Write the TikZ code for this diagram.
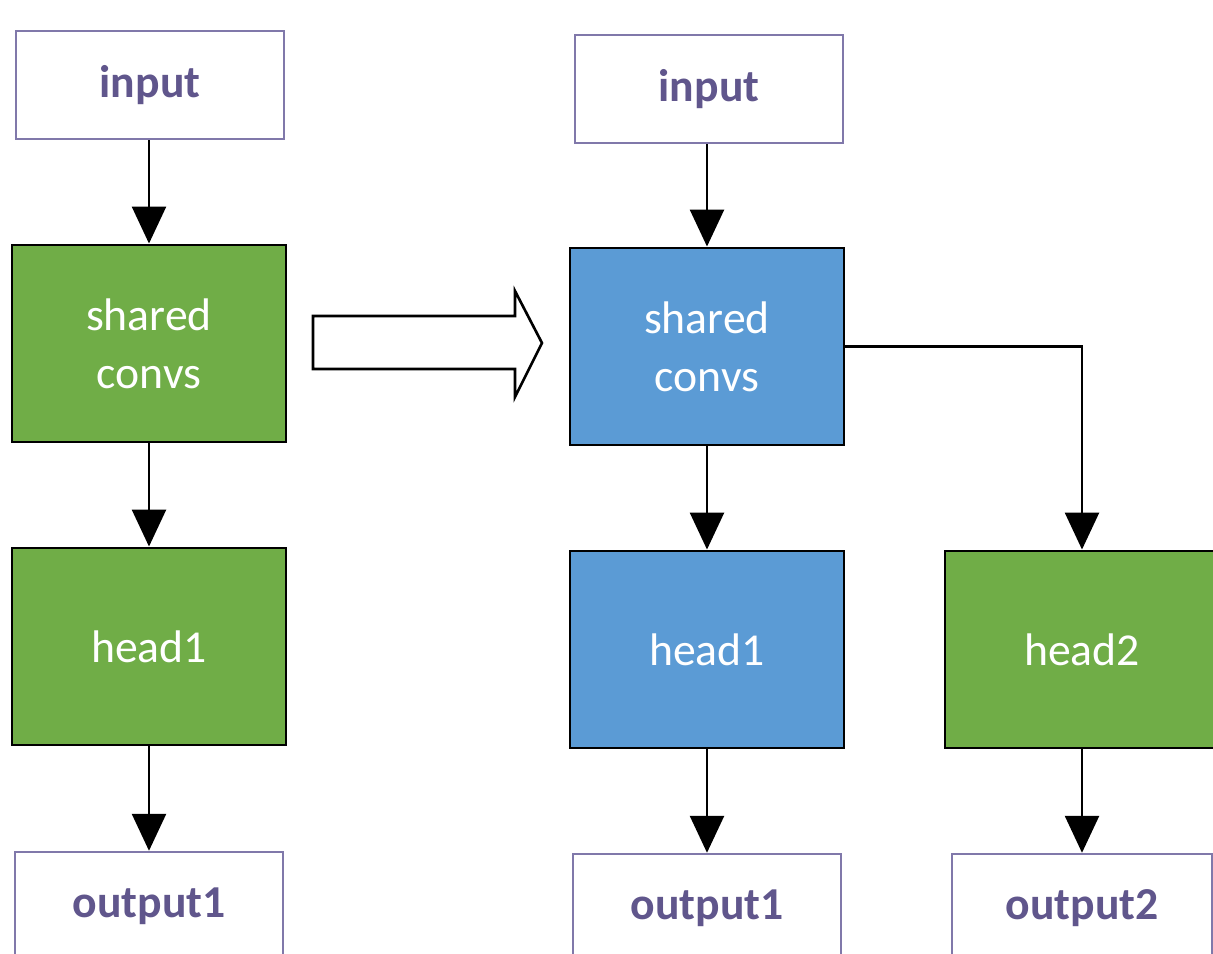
\documentclass[tikz,border=0pt]{standalone}
\usepackage{fontspec}
\setmainfont{Carlito}
\usetikzlibrary{arrows.meta,positioning}

\definecolor{capagreen}{RGB}{112,173,71}
\definecolor{capablue}{RGB}{91,155,213}
\definecolor{ioborde}{RGB}{128,120,170}
\definecolor{iotexto}{RGB}{96,86,140}

\tikzset{
  capa/.style={draw=black,line width=1.4pt,minimum width=5.48cm,minimum height=3.95cm,
    text=white,align=center,font=\fontsize{26}{33}\selectfont},
  io/.style={draw=ioborde,fill=white,line width=1.4pt,minimum width=5.36cm,minimum height=2.16cm,
    text=iotexto,font=\fontsize{26}{33}\selectfont\bfseries},
}

\begin{document}
\begin{tikzpicture}[x=0.02cm,y=-0.02cm,line width=1.5pt,
    >={Triangle[width=0.68cm,length=0.74cm]}]
  \useasboundingbox (0,0) rectangle (1213,953);

  % Red original
  \node[io] (in1) at (150,85) {input};
  \node[capa,fill=capagreen] (sc1) at (149,343.5) {shared\\convs};
  \node[capa,fill=capagreen] (hd1) at (149,646.5) {head1};
  \node[io] (out1) at (149,906) {output1};

  % Red con dos cabezas
  \node[io] (in2) at (709,89) {input};
  \node[capa,fill=capablue] (sc2) at (707,346.5) {shared\\convs};
  \node[capa,fill=capablue] (hd2a) at (707,649.5) {head1};
  \node[io] (out2a) at (707,908) {output1};
  \node[capa,fill=capagreen] (hd2b) at (1082,649.5) {head2};
  \node[io,minimum width=5.2cm] (out2b) at (1082,908) {output2};

  % Flechas
  \path[->] (in1.south -| sc1) edge (sc1);
  \path[->] (sc1) edge (hd1);
  \path[->] (hd1) edge (out1);
  \path[->] (in2.south -| sc2) edge (sc2);
  \path[->] (sc2) edge (hd2a);
  \path[->] (hd2a) edge (out2a);
  \path[->] (hd2b) edge (out2b);
  \draw[->] (sc2.east) -| (hd2b.north);

  % Flecha hueca
  \draw[fill=white] (313,316) -- (515,316) -- (515,291) -- (542,343)
    -- (515,397) -- (515,369) -- (313,369) -- cycle;
\end{tikzpicture}
\end{document}
